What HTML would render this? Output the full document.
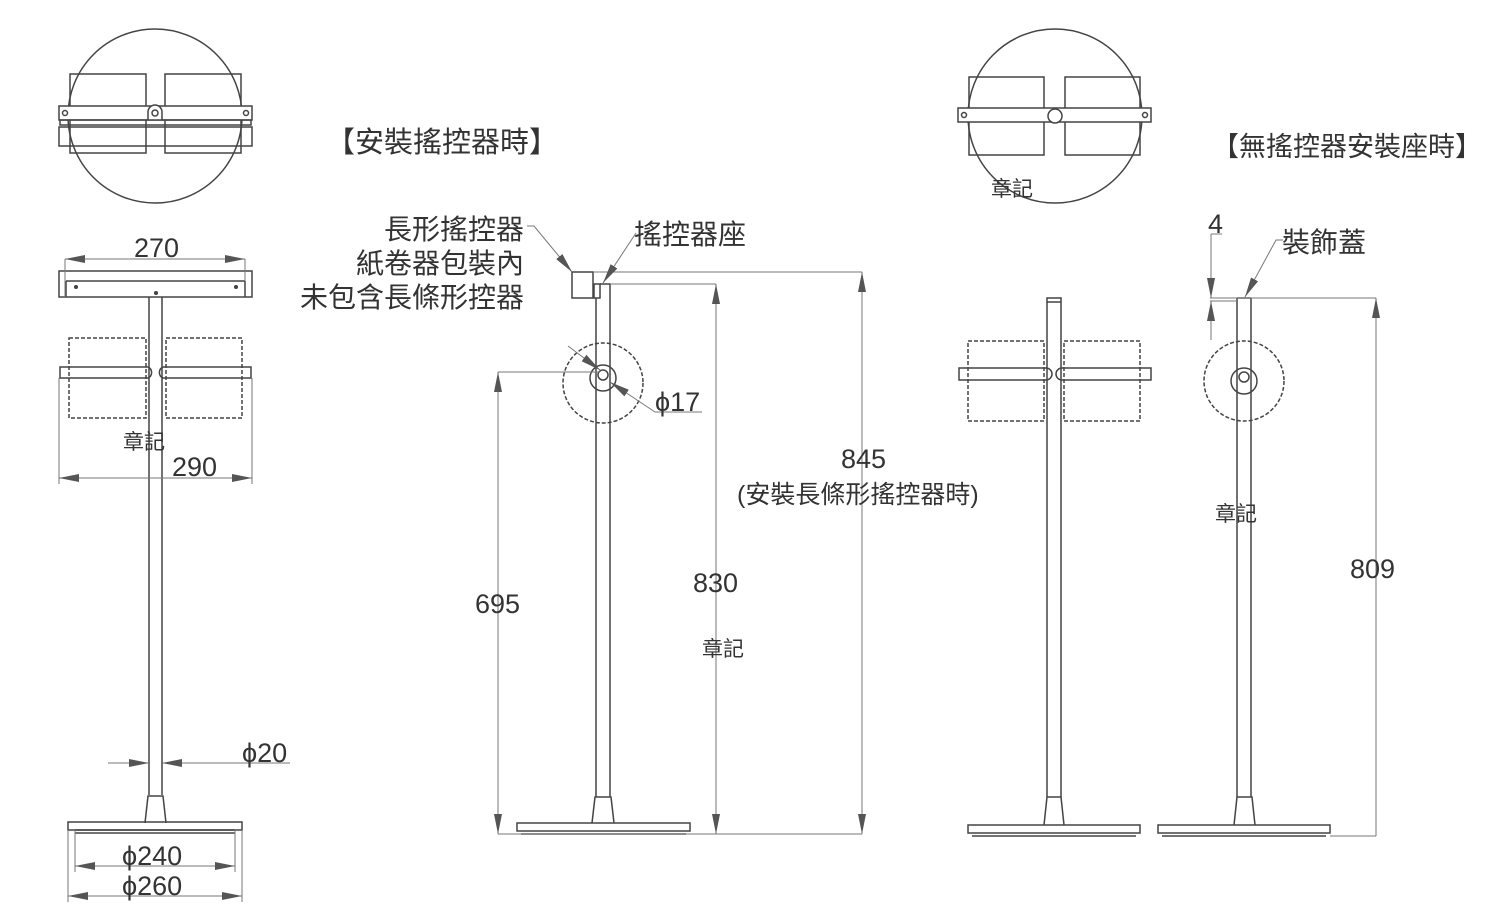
<!DOCTYPE html>
<html><head><meta charset="utf-8"><style>
html,body{margin:0;padding:0;background:#fff;}
svg{display:block;}
text{font-family:"Liberation Sans","Noto Sans CJK TC",sans-serif;fill:#333;}
</style></head><body>
<svg width="1500" height="919" viewBox="0 0 1500 919" xmlns="http://www.w3.org/2000/svg">
<defs>
<marker id="a" viewBox="0 0 20 8" refX="20" refY="4" markerWidth="20" markerHeight="8" markerUnits="userSpaceOnUse" orient="auto-start-reverse"><path d="M0,0 L20,4 L0,8 z" fill="#555"/></marker>
</defs>
<g fill="none" stroke="#444" stroke-width="1.5">
<circle cx="155" cy="116" r="87"/>
<rect x="70" y="74" width="76" height="79"/>
<rect x="165" y="74" width="76" height="79"/>
<rect x="59" y="106" width="193" height="14" fill="#fff"/>
<circle cx="65" cy="113" r="2.5"/><circle cx="246" cy="113" r="2.5"/>
<path d="M148,120 v-8 a7,7 0 0 1 14,0 v8" fill="#fff"/><circle cx="155" cy="113" r="3"/>
<rect x="60" y="120" width="191" height="5"/>
<rect x="59" y="127" width="193" height="19"/>
<rect x="59" y="271" width="193" height="26"/>
<line x1="66" y1="281" x2="245" y2="281"/><line x1="66" y1="281" x2="66" y2="297"/><line x1="245" y1="281" x2="245" y2="297"/>
<circle cx="76" cy="287" r="1.3" fill="#444"/><circle cx="236" cy="287" r="1.3" fill="#444"/><circle cx="156" cy="293" r="1.3" fill="#444"/>
<line x1="149" y1="297" x2="149" y2="795"/><line x1="162" y1="297" x2="162" y2="795"/>
<path d="M145,823 L148,796 H163 L166,823"/>
<rect x="68" y="822" width="174" height="8"/>
<line x1="75" y1="830" x2="235" y2="830"/><line x1="75" y1="833" x2="235" y2="833"/>
<rect x="69" y="338" width="77" height="80" stroke-dasharray="4,2"/>
<rect x="166" y="338" width="76" height="80" stroke-dasharray="4,2"/>
<path d="M148,367 H60 v11 H148 a6,6 0 0 0 0,-11"/>
<path d="M163,367 H251 v11 H163 a6,6 0 0 1 0,-11"/>
<g stroke="#777" stroke-width="1">
<line x1="65" y1="259" x2="65" y2="297"/><line x1="245" y1="259" x2="245" y2="281"/>
<line x1="65" y1="259" x2="245" y2="259" marker-start="url(#a)" marker-end="url(#a)"/>
<line x1="59" y1="378" x2="59" y2="484"/><line x1="252" y1="378" x2="252" y2="484"/>
<line x1="59" y1="478" x2="252" y2="478" marker-start="url(#a)" marker-end="url(#a)"/>
<line x1="108" y1="763" x2="149" y2="763" marker-end="url(#a)"/>
<line x1="190" y1="763" x2="162" y2="763" marker-end="url(#a)"/>
<line x1="190" y1="763" x2="290" y2="763"/>
<line x1="75" y1="830" x2="75" y2="872"/><line x1="235" y1="830" x2="235" y2="872"/>
<line x1="75" y1="866" x2="235" y2="866" marker-start="url(#a)" marker-end="url(#a)"/>
<line x1="68" y1="830" x2="68" y2="902"/><line x1="242" y1="830" x2="242" y2="902"/>
<line x1="68" y1="896" x2="242" y2="896" marker-start="url(#a)" marker-end="url(#a)"/>
</g>
<rect x="572" y="272" width="21" height="26"/>
<rect x="594" y="284" width="6" height="14"/>
<line x1="596" y1="298" x2="596" y2="797"/><line x1="610" y1="298" x2="610" y2="797"/>
<path d="M600,284 H610 v14"/>
<circle cx="603" cy="383" r="40" stroke-dasharray="4,2"/>
<circle cx="603" cy="378" r="13"/>
<circle cx="603" cy="375" r="5"/>
<path d="M592,823 L595,797 H611 L614,823"/>
<rect x="517" y="823" width="173" height="8"/>
<line x1="521" y1="834" x2="686" y2="834"/>
<g stroke="#777" stroke-width="1">
<line x1="498" y1="372" x2="600" y2="372"/>
<line x1="498" y1="372" x2="498" y2="834" marker-start="url(#a)" marker-end="url(#a)"/>
<line x1="610" y1="284" x2="716" y2="284"/>
<line x1="716" y1="284" x2="716" y2="834" marker-start="url(#a)" marker-end="url(#a)"/>
<line x1="594" y1="272" x2="862" y2="272"/>
<line x1="862" y1="272" x2="862" y2="834" marker-start="url(#a)" marker-end="url(#a)"/>
<line x1="498" y1="834" x2="862" y2="834"/>
<line x1="568" y1="346" x2="600" y2="370" marker-end="url(#a)"/>
<line x1="655" y1="412" x2="610" y2="382" marker-end="url(#a)"/>
<line x1="655" y1="412" x2="702" y2="412"/>
<path d="M527,226 H534 L572,272" marker-end="url(#a)"/>
<path d="M636,233 L603,283" marker-end="url(#a)"/>
</g>
<circle cx="1055" cy="116" r="87"/>
<rect x="969" y="77" width="75" height="78"/>
<rect x="1065" y="77" width="75" height="78"/>
<rect x="958" y="108" width="193" height="14" fill="#fff"/>
<circle cx="964" cy="115" r="2.5"/><circle cx="1145" cy="115" r="2.5"/>
<circle cx="1055" cy="116" r="7" fill="#fff"/>
<rect x="1047" y="298" width="14" height="4"/>
<line x1="1047" y1="302" x2="1047" y2="797"/><line x1="1061" y1="302" x2="1061" y2="797"/>
<rect x="968" y="341" width="76" height="80" stroke-dasharray="4,2"/>
<rect x="1064" y="341" width="76" height="80" stroke-dasharray="4,2"/>
<path d="M1046,368 H959 v12 H1046 a6,6 0 0 0 0,-12"/>
<path d="M1062,368 H1151 v12 H1062 a6,6 0 0 1 0,-12"/>
<path d="M1044,825 L1047,797 H1061 L1064,825"/>
<rect x="968" y="825" width="172" height="8"/>
<line x1="972" y1="836" x2="1136" y2="836"/>
<line x1="1237" y1="298" x2="1237" y2="797"/><line x1="1251" y1="298" x2="1251" y2="797"/>
<line x1="1237" y1="298" x2="1251" y2="298"/>
<circle cx="1244" cy="381" r="40" stroke-dasharray="4,2"/>
<circle cx="1244" cy="381" r="13"/>
<circle cx="1244" cy="377" r="5"/>
<path d="M1234,825 L1237,797 H1252 L1255,825"/>
<rect x="1158" y="825" width="172" height="8"/>
<line x1="1162" y1="836" x2="1326" y2="836"/>
<g stroke="#777" stroke-width="1">
<line x1="1210" y1="298" x2="1376" y2="298"/>
<line x1="1210" y1="301" x2="1237" y2="301"/>
<line x1="1376" y1="298" x2="1376" y2="836" marker-start="url(#a)"/>
<line x1="1330" y1="836" x2="1376" y2="836"/>
<line x1="1211" y1="234" x2="1211" y2="298" marker-end="url(#a)"/>
<line x1="1211" y1="340" x2="1211" y2="301" marker-end="url(#a)"/>
<line x1="1211" y1="234" x2="1222" y2="234"/>
<path d="M1283,240 H1276 L1245,297" marker-end="url(#a)"/>
</g>
</g>
<g font-size="27">
<text x="326" y="152" font-size="29">【安裝搖控器時】</text>
<text x="1212" y="156">【無搖控器安裝座時】</text>
<text x="134" y="257">270</text>
<text x="172" y="476">290</text>
<text x="242" y="762">ϕ20</text>
<text x="122" y="865">ϕ240</text>
<text x="122" y="895">ϕ260</text>
<text x="655" y="411">ϕ17</text>
<text x="524" y="239" text-anchor="end" font-size="28">長形搖控器</text>
<text x="524" y="273" text-anchor="end" font-size="28">紙卷器包裝內</text>
<text x="524" y="307" text-anchor="end" font-size="28">未包含長條形控器</text>
<text x="634" y="244" font-size="28">搖控器座</text>
<text x="841" y="468">845</text>
<text x="737" y="503" font-size="25">(安裝長條形搖控器時)</text>
<text x="475" y="613">695</text>
<text x="693" y="592">830</text>
<text x="1208" y="233">4</text>
<text x="1282" y="252" font-size="28">裝飾蓋</text>
<text x="1350" y="578">809</text>
</g>
<g font-size="21">
<text x="123" y="449">章記</text>
<text x="991" y="196">章記</text>
<text x="702" y="656">章記</text>
<text x="1215" y="521">章記</text>
</g>
</svg>
</body></html>
